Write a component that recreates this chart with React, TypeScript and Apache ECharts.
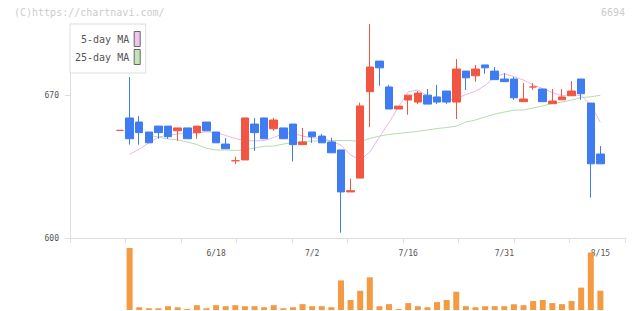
import React, { useEffect, useRef } from "react";
import * as echarts from "echarts";

// ---------- data ----------
const dates = [
  "6/4", "6/5", "6/6", "6/7", "6/10", "6/11", "6/12", "6/13", "6/14", "6/17",
  "6/18", "6/19", "6/20", "6/21", "6/24", "6/25", "6/26", "6/27", "6/28", "7/1",
  "7/2", "7/3", "7/4", "7/5", "7/8", "7/9", "7/10", "7/11", "7/12", "7/15",
  "7/16", "7/18", "7/19", "7/22", "7/23", "7/24", "7/25", "7/26", "7/29", "7/30",
  "7/31", "8/1", "8/2", "8/5", "8/6", "8/7", "8/8", "8/9", "8/13", "8/14",
  "8/15",
];

const openP = [
  652.8, 658.9, 656.9, 652.0, 654.9, 654.9, 652.6, 654.0, 651.7, 656.9,
  652.0, 646.1, 637.9, 638.3, 655.9, 658.9, 653.6, 654.0, 655.9, 645.8,
  652.0, 650.0, 647.1, 643.2, 622.6, 629.4, 671.8, 686.8, 674.1, 663.3,
  667.7, 666.7, 670.1, 669.2, 672.1, 666.7, 681.9, 679.6, 684.9, 681.9,
  678.0, 678.0, 666.9, 674.1, 673.1, 665.9, 667.8, 669.8, 678.0, 666.2,
  641.2,
];
const closeP = [
  652.8, 648.7, 651.7, 646.7, 651.7, 649.7, 654.0, 648.7, 654.9, 652.6,
  646.7, 643.8, 637.9, 658.9, 651.7, 648.7, 657.9, 648.7, 645.8, 647.1,
  649.7, 646.7, 641.8, 622.6, 623.2, 664.8, 683.9, 683.5, 663.3, 664.7,
  670.1, 671.1, 665.7, 666.7, 666.7, 682.9, 678.6, 682.9, 683.5, 677.7,
  676.7, 668.8, 668.2, 674.1, 666.9, 667.2, 669.2, 672.1, 670.8, 636.4,
  636.4,
];
const lowP = [
  652.8, 645.8, 645.8, 646.7, 648.7, 648.7, 647.7, 648.7, 648.7, 652.6,
  646.7, 643.8, 636.3, 638.3, 642.8, 648.7, 652.6, 648.7, 637.6, 645.8,
  646.7, 646.7, 641.8, 602.6, 622.6, 629.4, 654.4, 674.7, 663.3, 663.3,
  660.5, 665.7, 665.7, 665.7, 665.7, 658.4, 672.6, 676.7, 680.6, 677.7,
  676.7, 667.8, 666.9, 672.7, 666.9, 665.9, 667.8, 669.8, 667.8, 619.8,
  636.4,
];
const highP = [
  652.8, 679.0, 659.8, 652.0, 654.9, 654.9, 654.0, 654.0, 654.9, 656.9,
  652.0, 649.1, 639.9, 658.9, 658.9, 658.9, 658.9, 654.0, 655.9, 654.0,
  652.0, 651.0, 649.1, 643.2, 629.1, 666.4, 705.0, 686.8, 675.1, 664.7,
  670.1, 672.1, 673.1, 675.1, 672.1, 687.8, 681.9, 684.9, 684.9, 683.9,
  680.9, 679.0, 676.0, 676.0, 673.1, 673.1, 673.1, 677.0, 678.0, 666.2,
  645.1,
];
const volume = [
  0, 180, 8, 5, 5, 11, 8, 3, 14, 5,
  14, 11, 14, 11, 11, 8, 14, 5, 8, 17,
  11, 11, 8, 86, 29, 56, 95, 11, 17, 3,
  20, 11, 8, 23, 29, 53, 11, 8, 11, 11,
  11, 17, 14, 26, 29, 20, 17, 26, 65, 167,
  56,
];
const ma5 = [
  null, 641.1, 643.6, 646.6, 649.5, 650.5, 651.0, 651.3, 651.5, 652.1,
  651.8, 650.3, 648.8, 647.8, 647.7, 647.8, 649.3, 651.4, 651.4, 650.0,
  649.2, 648.8, 647.6, 645.6, 640.7, 638.3, 642.2, 649.5, 656.6, 664.5,
  671.7, 672.6, 669.7, 667.7, 667.5, 668.4, 670.4, 672.0, 674.8, 679.0,
  680.6, 679.2, 677.5, 675.1, 673.3, 671.4, 669.8, 670.4, 669.9, 665.2,
  656.8,
];
const ma25 = [
  null, null, null, 650.5, 649.5, 648.6, 648.1, 647.1, 645.9, 644.0,
  643.2, 643.2, 643.0, 643.2, 644.2, 645.0, 645.1, 646.1, 646.8, 647.3,
  647.6, 647.8, 647.8, 647.8, 647.8, 647.3, 648.8, 650.0, 650.8, 651.3,
  651.8, 652.3, 653.0, 653.7, 654.2, 654.9, 656.9, 657.9, 659.4, 660.8,
  661.8, 662.7, 662.8, 663.8, 664.8, 666.0, 666.7, 667.7, 668.9, 669.3,
  670.0,
];
const priceTicks = [600, 670];
const priceMin = 600;
const priceMax = 705;

// ---------- styles ----------
const FONT = '"DejaVu Sans Mono", "Liberation Mono", monospace';
const RED = "#f25542";
const BLUE = "#3f7bf1";
const ORANGE = "#f39a43";
const PINK = "#e9b6ea";
const GREEN = "#b6dcaa";
const AXIS = "#dedede";
const LABEL = "#555555";

const CANDLE_LEFT = 115.2;
const CANDLE_RIGHT = 34.8;

export default function App() {
  const ref = useRef<HTMLDivElement>(null);

  useEffect(() => {
    document.body.style.margin = "0";
    const chart = echarts.init(ref.current as HTMLDivElement, null, { renderer: "svg" });

    const candleData = dates.map((_, i) => {
      const item: any = { value: [openP[i], closeP[i], lowP[i], highP[i]] };
      if (openP[i] === closeP[i]) {
        item.itemStyle = { color: RED, color0: RED, borderColor: RED, borderColor0: RED };
      }
      return item;
    });

    const option: any = {
      animation: false,
      backgroundColor: "#ffffff",
      title: [
        {
          text: "(C)https://chartnavi.com/",
          left: 14,
          top: 7,
          padding: 0,
          textStyle: { fontFamily: FONT, fontSize: 10, fontWeight: "normal", color: "#cccccc" },
        },
        {
          text: "6694",
          right: 15,
          top: 7,
          padding: 0,
          textStyle: { fontFamily: FONT, fontSize: 10, fontWeight: "normal", color: "#cccccc" },
        },
      ],
      legend: {
        left: 70,
        top: 24,
        orient: "vertical",
        align: "right",
        itemWidth: 6,
        itemHeight: 15,
        itemGap: 2,
        padding: [7, 5, 8, 5],
        backgroundColor: "#ffffff",
        borderColor: "#dddddd",
        borderWidth: 1,
        selectedMode: false,
        textStyle: { fontFamily: FONT, fontSize: 10, color: LABEL },
        data: [
          { name: "5-day MA", icon: "rect", itemStyle: { color: "#f0c4f0", borderColor: "#666666", borderWidth: 1 } },
          { name: "25-day MA", icon: "rect", itemStyle: { color: "#c4e4b8", borderColor: "#666666", borderWidth: 1 } },
        ],
      },
      grid: [
        { left: 70, right: 15, top: 24, bottom: 73 },
        { left: CANDLE_LEFT, right: CANDLE_RIGHT, top: 24, bottom: 73 },
        { left: CANDLE_LEFT, right: CANDLE_RIGHT, top: 247, bottom: 1 },
      ],
      xAxis: [
        {
          gridIndex: 0,
          type: "value",
          min: 0,
          max: 10,
          interval: 1,
          axisLine: { show: true, lineStyle: { color: AXIS, width: 1 } },
          axisTick: { show: true, length: 5, lineStyle: { color: AXIS } },
          axisLabel: { show: false },
          splitLine: { show: false },
        },
        {
          gridIndex: 1,
          type: "category",
          data: dates,
          boundaryGap: true,
          axisLine: { show: false },
          axisTick: { show: false },
          splitLine: { show: false },
          axisLabel: {
            show: true,
            interval: (i: number) => i > 0 && i % 10 === 0,
            margin: 11,
            fontFamily: FONT,
            fontSize: 8,
            color: LABEL,
          },
        },
        {
          gridIndex: 2,
          type: "category",
          data: dates,
          boundaryGap: true,
          show: false,
        },
      ],
      yAxis: [
        {
          gridIndex: 0,
          type: "value",
          min: priceMin,
          max: priceMax,
          axisLine: { show: true, lineStyle: { color: AXIS, width: 1 } },
          axisTick: { show: true, length: 5, customValues: priceTicks, lineStyle: { color: AXIS } },
          axisLabel: {
            show: true,
            customValues: priceTicks,
            margin: 11,
            fontFamily: FONT,
            fontSize: 8,
            color: LABEL,
          },
          splitLine: { show: false },
        },
        {
          gridIndex: 1,
          type: "value",
          min: priceMin,
          max: priceMax,
          show: false,
          splitLine: { show: false },
        },
        {
          gridIndex: 2,
          type: "value",
          min: 0,
          max: 183,
          show: false,
          splitLine: { show: false },
        },
      ],
      series: [
        {
          name: "5-day MA",
          type: "line",
          xAxisIndex: 1,
          yAxisIndex: 1,
          data: ma5,
          showSymbol: false,
          symbol: "none",
          lineStyle: { color: PINK, width: 1 },
          itemStyle: { color: PINK },
          z: 1,
        },
        {
          name: "25-day MA",
          type: "line",
          xAxisIndex: 1,
          yAxisIndex: 1,
          data: ma25,
          showSymbol: false,
          symbol: "none",
          lineStyle: { color: GREEN, width: 1 },
          itemStyle: { color: GREEN },
          z: 1,
        },
        {
          name: "price",
          type: "candlestick",
          xAxisIndex: 1,
          yAxisIndex: 1,
          data: candleData,
          barWidth: 8,
          itemStyle: {
            color: RED,
            color0: BLUE,
            borderColor: RED,
            borderColor0: BLUE,
            borderWidth: 1,
          },
          z: 3,
        },
        {
          name: "volume",
          type: "bar",
          xAxisIndex: 2,
          yAxisIndex: 2,
          data: volume,
          barWidth: 6,
          itemStyle: { color: ORANGE },
          z: 3,
        },
      ],
    };

    chart.setOption(option);
    return () => chart.dispose();
  }, []);

  return <div ref={ref} style={{ width: 640, height: 311 }} />;
}
